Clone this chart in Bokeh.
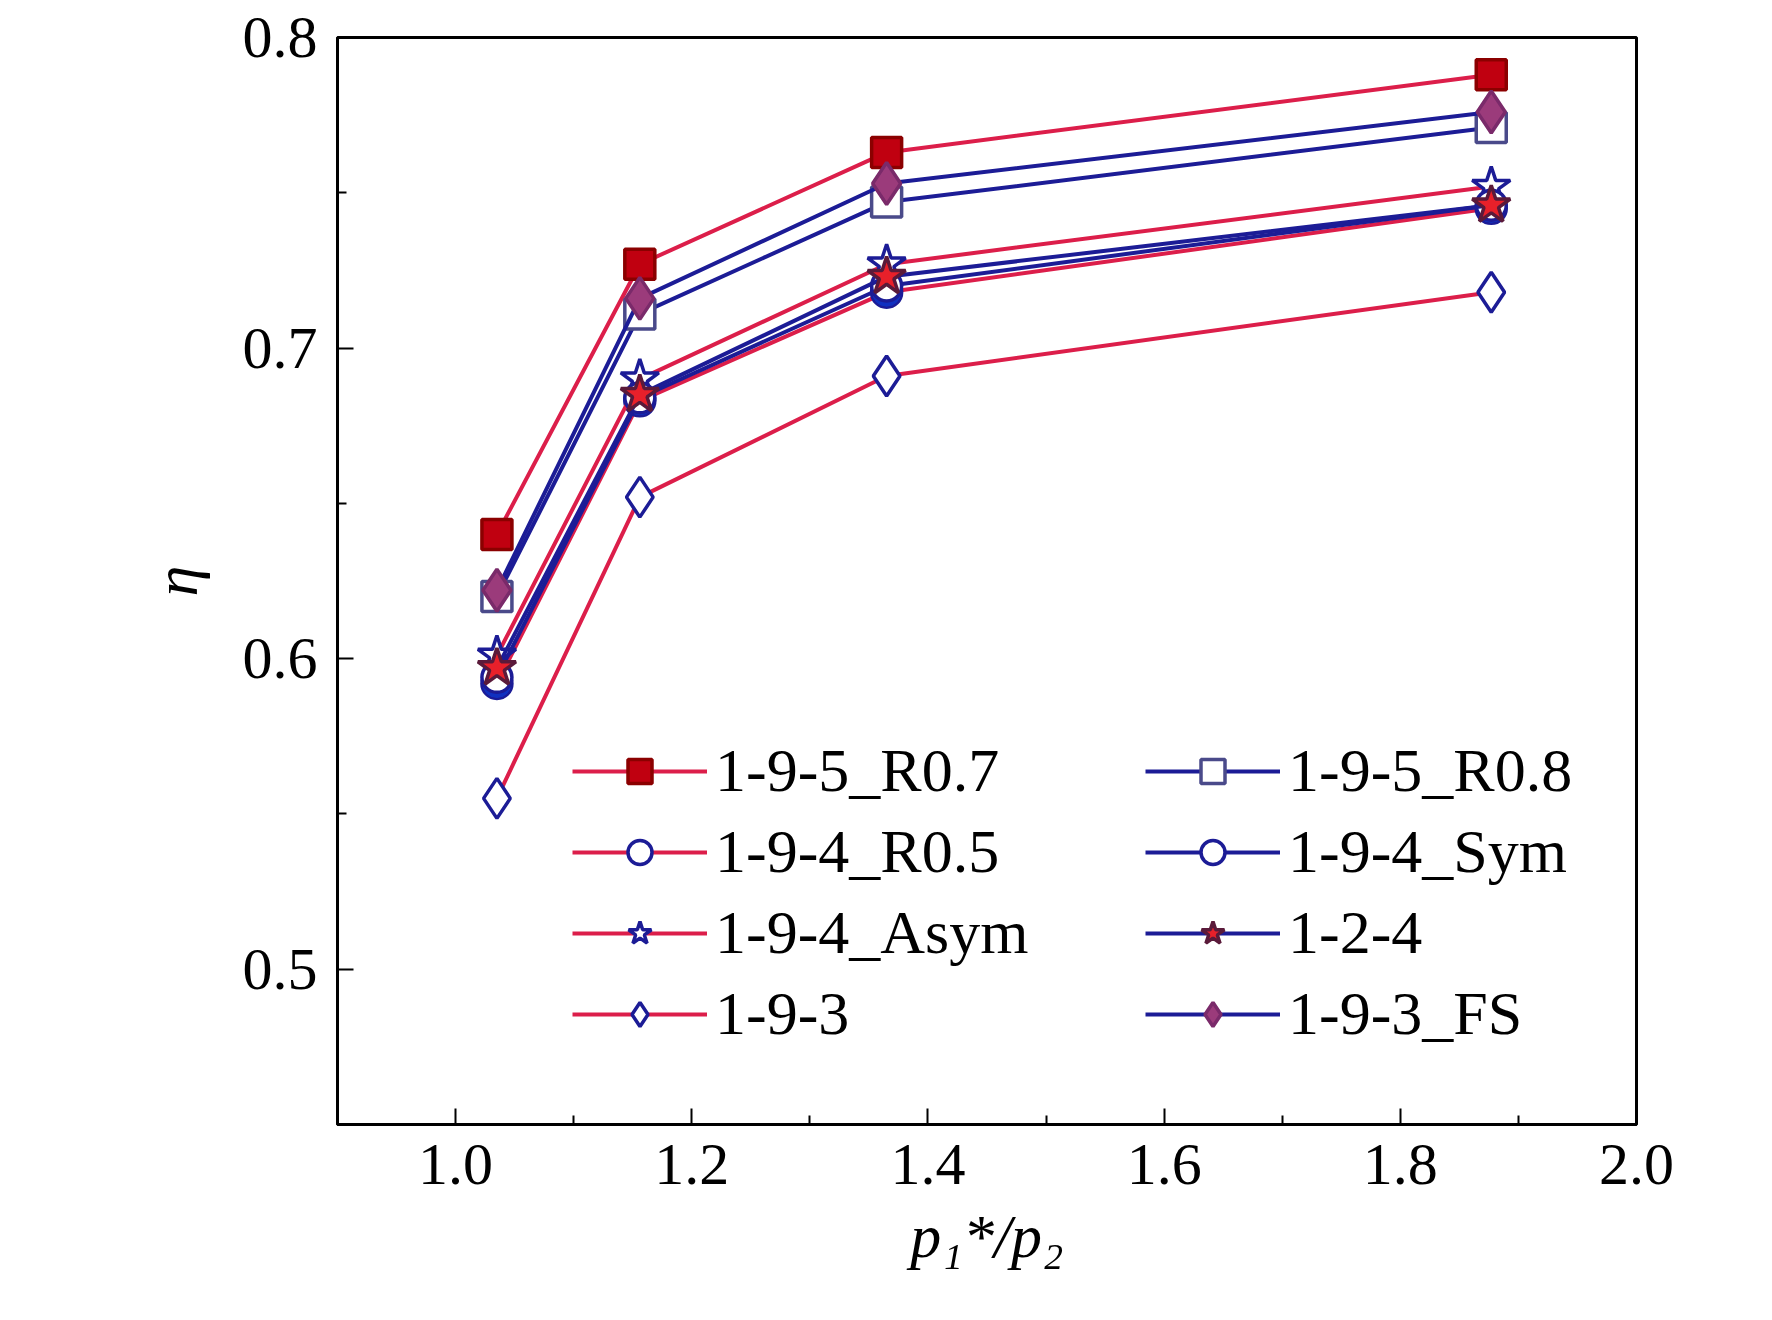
import math
from bokeh.plotting import figure
from bokeh.models import Legend, LegendItem, FixedTicker, NumeralTickFormatter
from bokeh.embed import file_html
from bokeh.resources import INLINE

x = [1.035, 1.156, 1.365, 1.877]
names = ["1-9-5_R0.7", "1-9-5_R0.8", "1-9-4_R0.5", "1-9-4_Sym",
         "1-9-4_Asym", "1-2-4", "1-9-3", "1-9-3_FS"]
r07 = [0.640, 0.727, 0.763, 0.788]
r08 = [0.620, 0.711, 0.747, 0.771]
r05 = [0.592, 0.683, 0.718, 0.745]
sym = [0.594, 0.684, 0.720, 0.746]
asym = [0.601, 0.690, 0.727, 0.752]
s124 = [0.597, 0.685, 0.723, 0.746]
s193 = [0.555, 0.652, 0.691, 0.718]
fs = [0.622, 0.716, 0.753, 0.776]

RED = "#DC1E4A"
NAVY = "#1C1C96"
FONT = "Liberation Serif"

p = figure(width=1756, height=1304, x_range=(0.9, 2.0), y_range=(0.45, 0.8),
           output_backend="svg", toolbar_location=None,
           min_border_left=337, min_border_right=120, min_border_top=37, min_border_bottom=180)
p.background_fill_color = "white"
p.border_fill_color = "white"
p.xgrid.visible = False
p.ygrid.visible = False
p.outline_line_color = "black"
p.outline_line_width = 3

for ax in (p.xaxis[0], p.yaxis[0]):
    ax.axis_line_width = 3
    ax.major_tick_in = 16
    ax.major_tick_out = 0
    ax.minor_tick_in = 9
    ax.minor_tick_out = 0
    ax.major_tick_line_width = 2
    ax.minor_tick_line_width = 2
    ax.major_label_text_font = FONT
    ax.major_label_text_font_size = "60px"
    ax.major_label_text_color = "black"
    ax.axis_label_text_font = FONT
    ax.axis_label_text_font_size = "62px"
    ax.axis_label_text_font_style = "italic"
    ax.axis_label_text_color = "black"
    ax.formatter = NumeralTickFormatter(format="0.0")
p.xaxis.ticker = FixedTicker(ticks=[1.0, 1.2, 1.4, 1.6, 1.8, 2.0],
                             minor_ticks=[1.1, 1.3, 1.5, 1.7, 1.9])
p.yaxis.ticker = FixedTicker(ticks=[0.5, 0.6, 0.7, 0.8], minor_ticks=[0.55, 0.65, 0.75])
p.xaxis.major_label_standoff = 20
p.yaxis.major_label_standoff = 20
p.xaxis.axis_label = "p\u2081*/p\u2082"
p.yaxis.axis_label = "\u03b7"
p.xaxis.axis_label_standoff = 15
p.yaxis.axis_label_standoff = 30

S = 30
items = []

def series(ys, lc, marker, fill, edge, size=S):
    l = p.line(x, ys, line_color=lc, line_width=4)
    m = p.scatter(x, ys, marker=marker, size=size, fill_color=fill, line_color=edge, line_width=3.5)
    return [l, m]

items.append(LegendItem(label=names[0], renderers=series(r07, RED, "square", "#C00010", "#8B0000")))
r = series(r05, RED, "circle", "white", NAVY)
p.wedge(x, r05, radius=S/2, radius_units="screen", start_angle=math.pi, end_angle=2*math.pi,
        fill_color="#1030C0", line_color=NAVY, line_width=1)
items.append(LegendItem(label=names[2], renderers=r))
items.append(LegendItem(label=names[4], renderers=series(asym, RED, "star", "white", NAVY, 40)))
items.append(LegendItem(label=names[6], renderers=series(s193, RED, "diamond", "white", NAVY, 40)))
items.append(LegendItem(label=names[1], renderers=series(r08, NAVY, "square", "white", "#4A4A8A")))
items.append(LegendItem(label=names[3], renderers=series(sym, NAVY, "circle", "white", NAVY)))
items.append(LegendItem(label=names[5], renderers=series(s124, NAVY, "star", "#E8202A", "#5A1A3A", 40)))
items.append(LegendItem(label=names[7], renderers=series(fs, NAVY, "diamond", "#9B3B7B", "#7A2A6A", 42)))

leg = Legend(items=items, location=(235, 75), ncols=2, orientation="vertical")
leg.label_text_font = FONT
leg.label_text_font_size = "62px"
leg.label_text_color = "black"
leg.glyph_width = 135
leg.glyph_height = 60
leg.label_height = 66
leg.spacing = 10
leg.label_standoff = 8
leg.label_width = 420
leg.border_line_alpha = 0
leg.background_fill_alpha = 0
leg.padding = 0
leg.margin = 0
p.add_layout(leg, "center")

open("out.html", "w").write(file_html(p, INLINE))
